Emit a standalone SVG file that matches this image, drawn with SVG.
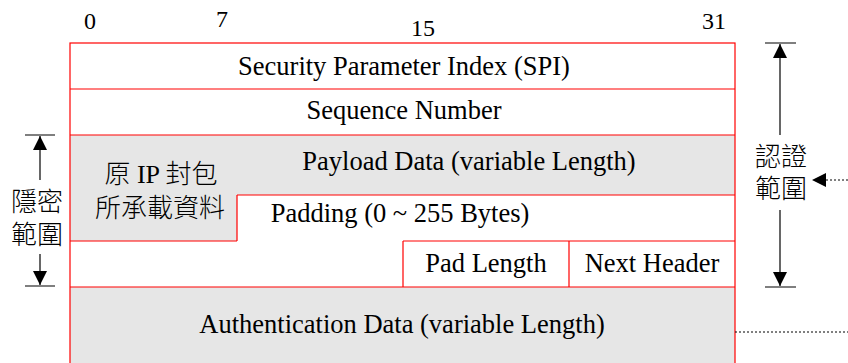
<svg xmlns="http://www.w3.org/2000/svg" width="848" height="363" viewBox="0 0 848 363">
<style>
.t{font-family:"Liberation Serif","Times New Roman",serif;font-size:26.5px;fill:#000;text-anchor:middle}
.n{font-family:"Liberation Serif","Times New Roman",serif;font-size:24px;fill:#000;text-anchor:middle}
.c{font-family:"Liberation Serif","Noto Sans CJK TC",serif;font-size:26px;fill:#000;text-anchor:middle;font-weight:300}
.r{stroke:#ff0000;stroke-width:1.2;fill:none}
.k{stroke:#000;stroke-width:1.2;fill:none}
.d{stroke:#000;stroke-width:1;fill:none;stroke-dasharray:2,2}
</style>
<defs>
<marker id="ah" viewBox="0 0 10 10" refX="10" refY="5" markerWidth="14" markerHeight="14" markerUnits="userSpaceOnUse" orient="auto">
<path d="M0,0 L10,5 L0,10 Z" fill="#000"/>
</marker>
</defs>
<rect width="848" height="363" fill="#fff"/>
<g id="ruler">
<text class="n" x="90" y="29">0</text>
<text class="n" x="222" y="27">7</text>
<text class="n" x="423" y="36">15</text>
<text class="n" x="714" y="29">31</text>
</g>
<g id="fills">
<path d="M70,135 H735 V195 H237 V241 H70 Z" fill="#e6e6e6"/>
<rect x="70" y="287" width="665" height="76" fill="#e6e6e6"/>
</g>
<g id="grid">
<rect class="r" x="70" y="43" width="665" height="322"/>
<path class="r" d="M70,89 H735 M70,135 H735 M70,287 H735 M237,195 H735 M237,195 V241 M70,241 H237 M403,241 H735 M403,241 V287 M569,241 V287"/>
</g>
<g id="spi"><text class="t" x="404" y="75">Security Parameter Index (SPI)</text></g>
<g id="seq"><text class="t" x="404" y="119">Sequence Number</text></g>
<g id="payload"><text class="t" x="469" y="170">Payload Data (variable Length)</text>
<text class="c" x="161" y="183">原 IP 封包</text>
<text class="c" x="160" y="217">所承載資料</text></g>
<g id="padding"><text class="t" x="400" y="222">Padding (0 ~ 255 Bytes)</text></g>
<g id="padlen"><text class="t" x="486" y="272">Pad Length</text></g>
<g id="nexthdr"><text class="t" x="652" y="272">Next Header</text></g>
<g id="auth"><text class="t" x="402" y="333">Authentication Data (variable Length)</text></g>
<g id="enc-range">
<path class="k" d="M25,135 H55 M25,286 H55"/>
<text class="c" x="37" y="211">隱密</text>
<text class="c" x="37" y="244">範圍</text>
</g>
<g id="auth-range">
<path class="k" d="M765,43 H796 M765,287 H796"/>
<text class="c" x="781" y="166">認證</text>
<text class="c" x="781" y="198">範圍</text>
</g>
<g id="connectors">
<path class="k" d="M40,180 V136" marker-end="url(#ah)"/>
<path class="k" d="M40,254 V285" marker-end="url(#ah)"/>
<path class="k" d="M780,135 V44" marker-end="url(#ah)"/>
<path class="k" d="M780,210 V286" marker-end="url(#ah)"/>
<path class="d" d="M848,180 H812" marker-end="url(#ah)"/>
<path class="d" d="M735,332 H848"/>
</g>
</svg>
